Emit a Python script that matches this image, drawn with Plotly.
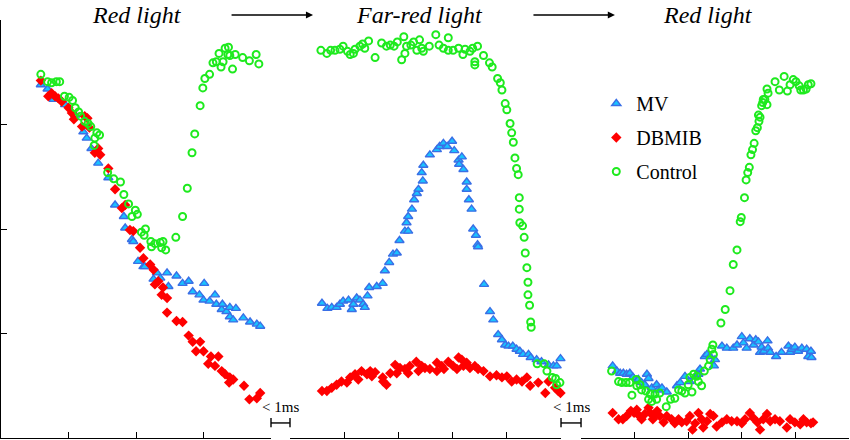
import plotly.graph_objects as go

# panel 1: red light
mv_p1_t = [0.59, 0.69, 0.78, 0.95, 1.10, 1.22, 1.27, 1.34, 1.44, 1.59, 1.69, 1.82, 1.84, 1.94, 1.96,
            2.03, 2.11, 2.13, 2.26, 2.31, 2.36, 2.46, 2.48, 2.60, 2.69, 2.78, 2.84, 2.94, 3.01, 3.00,
            3.09, 3.17, 3.19, 3.27, 3.28, 3.34, 3.39, 3.39, 3.44, 3.48, 3.59, 3.69, 3.79, 3.84]
mv_p1_v = [3.38, 3.34, 3.24, 3.19, 3.09, 2.93, 2.87, 2.77, 2.63, 2.49, 2.23, 2.12, 2.01, 1.90, 1.88,
            1.69, 1.64, 1.64, 1.52, 1.58, 1.53, 1.58, 1.45, 1.55, 1.48, 1.50, 1.40, 1.37, 1.48, 1.32,
            1.31, 1.37, 1.28, 1.23, 1.28, 1.21, 1.25, 1.16, 1.13, 1.24, 1.15, 1.11, 1.09, 1.07]
db_p1_t = [0.59, 0.70, 0.75, 0.80, 0.85, 0.90, 1.00, 1.05, 1.08, 1.20, 1.24, 1.28, 1.31, 1.39, 1.44,
            1.47, 1.59, 1.69, 1.79, 1.84, 1.91, 1.96, 2.06, 2.11, 2.21, 2.26, 2.28, 2.33, 2.40, 2.38,
            2.46, 2.46, 2.60, 2.69, 2.78, 2.84, 2.95, 2.89, 3.00, 3.11, 3.22, 3.07, 3.17, 3.27, 3.32,
            3.39, 3.44, 3.38, 3.60, 3.68, 3.79, 3.84]
db_p1_v = [3.42, 3.27, 3.30, 3.27, 3.25, 3.22, 3.16, 3.11, 3.05, 2.98, 3.08, 3.06, 2.97, 2.73, 2.77,
            2.71, 2.58, 2.38, 2.20, 2.23, 1.99, 1.98, 1.82, 1.72, 1.66, 1.61, 1.47, 1.50, 1.44, 1.37,
            1.34, 1.20, 1.12, 1.11, 0.98, 0.92, 0.92, 0.83, 0.83, 0.78, 0.78, 0.71, 0.69, 0.64, 0.61,
            0.58, 0.56, 0.53, 0.50, 0.37, 0.38, 0.43]
ctl_p1_t = [0.59, 0.69, 0.75, 0.82, 0.87, 0.94, 1.01, 1.06, 1.10, 1.15, 1.18, 1.24, 1.29, 1.33, 1.42,
             1.46, 1.39, 1.38, 1.58, 1.67, 1.77, 1.82, 1.89, 1.99, 2.02, 1.94, 2.08, 2.14, 2.12, 2.22,
             2.23, 2.28, 2.36, 2.38, 2.40, 2.44, 2.59, 2.69, 2.76, 2.83, 2.87, 2.95, 2.99, 3.02, 3.09,
             3.14, 3.19, 3.23, 3.26, 3.29, 3.32, 3.36, 3.37, 3.39, 3.43, 3.47, 3.58, 3.68, 3.78, 3.82]
ctl_p1_v = [3.48, 3.41, 3.40, 3.41, 3.41, 3.27, 3.26, 3.23, 3.16, 3.12, 3.08, 3.03, 3.01, 2.98, 2.92,
             2.90, 2.87, 2.80, 2.54, 2.48, 2.45, 2.33, 2.24, 2.18, 2.14, 2.12, 1.97, 2.00, 1.94, 1.88,
             1.83, 1.86, 1.87, 1.82, 1.88, 1.80, 1.92, 2.12, 2.39, 2.73, 2.91, 3.18, 3.35, 3.44, 3.48,
             3.59, 3.60, 3.68, 3.55, 3.60, 3.73, 3.67, 3.74, 3.66, 3.53, 3.67, 3.64, 3.61, 3.67, 3.58]

# panel 2: far-red light
mv_p2_t = [0.59, 0.69, 0.77, 0.86, 0.92, 0.98, 1.08, 1.14, 1.17, 1.23, 1.29, 1.35, 1.38, 1.43, 1.46,
            1.60, 1.71, 1.75, 1.83, 1.90, 1.97, 2.02, 2.12, 2.18, 2.15, 2.18, 2.25, 2.29, 2.34, 2.37,
            2.43, 2.45, 2.46, 2.58, 2.71, 2.76, 2.83, 2.90, 2.99, 3.03, 3.11, 3.17, 3.12, 3.20, 3.26,
            3.26, 3.30, 3.35, 3.38, 3.43, 3.46, 3.47, 3.58, 3.69, 3.75, 3.84, 3.91, 3.97, 4.03, 4.11,
            4.18, 4.24, 4.30, 4.40, 4.44, 4.55, 4.64, 4.77, 4.86, 4.92, 4.99]
mv_p2_v = [1.29, 1.24, 1.25, 1.25, 1.28, 1.31, 1.32, 1.23, 1.28, 1.34, 1.32, 1.28, 1.25, 1.36, 1.44,
            1.45, 1.48, 1.60, 1.68, 1.76, 1.77, 1.89, 1.98, 1.98, 2.06, 2.12, 2.19, 2.28, 2.34, 2.38,
            2.54, 2.46, 2.61, 2.71, 2.76, 2.79, 2.82, 2.79, 2.84, 2.75, 2.66, 2.69, 2.62, 2.57, 2.45,
            2.38, 2.28, 2.19, 2.00, 1.94, 1.85, 1.83, 1.47, 1.21, 1.13, 0.99, 0.94, 0.89, 0.88, 0.88,
            0.85, 0.83, 0.80, 0.80, 0.77, 0.75, 0.73, 0.70, 0.69, 0.69, 0.76]
db_p2_t = [0.59, 0.68, 0.77, 0.86, 0.95, 1.05, 1.11, 1.20, 1.26, 1.32, 1.42, 1.48, 1.51, 1.57, 1.71,
            1.72, 1.78, 1.85, 1.94, 1.97, 2.03, 2.12, 2.18, 2.21, 2.33, 2.37, 2.43, 2.49, 2.58, 2.71,
            2.71, 2.80, 2.84, 2.92, 3.01, 3.08, 3.11, 3.17, 3.20, 3.26, 3.32, 3.41, 3.47, 3.57, 3.69,
            3.81, 3.91, 4.00, 4.09, 4.18, 4.28, 4.37, 4.43, 4.58, 4.71, 4.77, 4.89, 4.95, 4.99]
db_p2_v = [0.45, 0.45, 0.48, 0.51, 0.54, 0.53, 0.58, 0.61, 0.56, 0.64, 0.61, 0.64, 0.59, 0.63, 0.58,
            0.54, 0.51, 0.62, 0.70, 0.62, 0.67, 0.66, 0.62, 0.69, 0.73, 0.64, 0.69, 0.67, 0.66, 0.72,
            0.64, 0.69, 0.66, 0.73, 0.69, 0.66, 0.77, 0.75, 0.69, 0.72, 0.67, 0.69, 0.66, 0.64, 0.59,
            0.60, 0.58, 0.59, 0.54, 0.56, 0.54, 0.58, 0.50, 0.53, 0.43, 0.54, 0.48, 0.45, 0.43]
ctl_p2_t = [0.57, 0.68, 0.75, 0.83, 0.92, 0.98, 1.06, 1.11, 1.17, 1.20, 1.29, 1.34, 1.38, 1.45, 1.57,
             1.69, 1.78, 1.85, 1.92, 1.98, 2.06, 2.10, 2.12, 2.15, 2.23, 2.28, 2.34, 2.39, 2.43, 2.46,
             2.57, 2.69, 2.75, 2.83, 2.92, 2.92, 3.01, 3.11, 3.19, 3.23, 3.32, 3.37, 3.46, 3.41, 3.41,
             3.57, 3.68, 3.73, 3.83, 3.88, 3.91, 3.97, 4.00, 4.06, 4.09, 4.12, 4.15, 4.18, 4.21, 4.23,
             4.23, 4.24, 4.29, 4.32, 4.34, 4.37, 4.39, 4.39, 4.42, 4.44, 4.45, 4.56, 4.69, 4.74, 4.84,
             4.90, 4.98, 4.92]
ctl_p2_v = [3.71, 3.68, 3.71, 3.71, 3.72, 3.75, 3.70, 3.67, 3.68, 3.72, 3.75, 3.77, 3.73, 3.80, 3.64,
             3.78, 3.75, 3.76, 3.75, 3.79, 3.62, 3.84, 3.68, 3.75, 3.76, 3.79, 3.71, 3.81, 3.73, 3.70,
             3.75, 3.86, 3.76, 3.73, 3.83, 3.71, 3.71, 3.73, 3.67, 3.72, 3.70, 3.73, 3.75, 3.60, 3.57,
             3.66, 3.59, 3.55, 3.44, 3.40, 3.33, 3.20, 3.14, 3.01, 2.92, 2.83, 2.68, 2.58, 2.52, 2.30,
             2.19, 2.06, 2.03, 1.92, 1.77, 1.63, 1.49, 1.37, 1.27, 1.11, 1.06, 0.71, 0.71, 0.64, 0.58,
             0.57, 0.53, 0.51]

# panel 3: red light again
mv_p3_t = [0.59, 0.67, 0.73, 0.79, 0.85, 0.91, 0.97, 1.07, 1.13, 1.23, 1.26, 1.19, 1.32, 1.41, 1.44,
            1.51, 1.60, 1.79, 1.85, 1.94, 2.03, 2.13, 2.19, 2.22, 2.31, 2.35, 2.41, 2.48, 2.50, 2.63,
            2.72, 2.84, 2.91, 3.00, 3.03, 3.09, 3.15, 3.22, 3.26, 3.31, 3.34, 3.37, 3.41, 3.48, 3.49,
            3.53, 3.64, 3.74, 3.87, 3.90, 3.93, 3.99, 4.05, 4.12, 4.21, 4.24, 4.29, 4.30]
mv_p3_v = [0.69, 0.64, 0.62, 0.62, 0.61, 0.62, 0.58, 0.56, 0.53, 0.61, 0.57, 0.51, 0.48, 0.51, 0.46,
            0.48, 0.44, 0.50, 0.53, 0.59, 0.54, 0.59, 0.61, 0.66, 0.78, 0.80, 0.78, 0.69, 0.75, 0.88,
            0.86, 0.86, 0.89, 0.97, 0.91, 0.86, 0.95, 0.89, 0.94, 0.92, 0.82, 0.87, 0.83, 0.93, 0.86,
            0.82, 0.78, 0.82, 0.88, 0.82, 0.85, 0.87, 0.83, 0.86, 0.85, 0.78, 0.83, 0.77]
db_p3_t = [0.59, 0.70, 0.78, 0.85, 0.93, 0.99, 1.04, 1.09, 1.13, 1.19, 1.26, 1.29, 1.34, 1.38, 1.42,
            1.47, 1.54, 1.60, 1.69, 1.75, 1.82, 1.88, 1.97, 2.03, 2.08, 2.13, 2.19, 2.25, 2.28, 2.35,
            2.41, 2.47, 2.53, 2.63, 2.72, 2.81, 2.91, 3.00, 3.06, 3.15, 3.22, 3.29, 3.34, 3.40, 3.47,
            3.53, 3.62, 3.71, 3.84, 3.90, 3.99, 4.09, 4.15, 4.21, 4.29, 4.33]
db_p3_v = [0.24, 0.18, 0.18, 0.21, 0.26, 0.24, 0.27, 0.21, 0.18, 0.23, 0.29, 0.24, 0.18, 0.21, 0.26,
            0.21, 0.15, 0.21, 0.18, 0.14, 0.18, 0.15, 0.16, 0.21, 0.08, 0.14, 0.24, 0.18, 0.10, 0.16,
            0.23, 0.21, 0.11, 0.15, 0.18, 0.16, 0.16, 0.14, 0.18, 0.24, 0.19, 0.15, 0.08, 0.18, 0.23,
            0.16, 0.18, 0.16, 0.10, 0.18, 0.15, 0.13, 0.18, 0.15, 0.14, 0.15]
ctl_p3_t = [0.57, 0.70, 0.76, 0.84, 0.91, 0.95, 1.03, 1.04, 1.10, 1.13, 1.21, 1.26, 1.29, 1.32, 1.38,
             1.41, 1.47, 1.59, 1.67, 1.75, 1.82, 1.88, 1.94, 2.00, 2.03, 2.07, 2.10, 2.16, 2.19, 2.25,
             2.30, 2.38, 2.41, 2.47, 2.44, 2.46, 2.61, 2.69, 2.78, 2.84, 2.91, 2.97, 2.99, 3.05, 3.08,
             3.11, 3.14, 3.17, 3.20, 3.23, 3.26, 3.29, 3.32, 3.34, 3.31, 3.37, 3.39, 3.40, 3.43, 3.47,
             3.47, 3.49, 3.62, 3.70, 3.79, 3.85, 3.90, 3.96, 4.01, 4.07, 4.10, 4.15, 4.20, 4.24, 4.29]
ctl_p3_v = [0.64, 0.54, 0.53, 0.53, 0.53, 0.41, 0.56, 0.50, 0.51, 0.46, 0.45, 0.37, 0.42, 0.35, 0.42,
             0.37, 0.43, 0.30, 0.37, 0.38, 0.46, 0.45, 0.43, 0.51, 0.58, 0.44, 0.61, 0.59, 0.54, 0.50,
             0.64, 0.69, 0.75, 0.80, 0.85, 0.89, 1.10, 1.23, 1.41, 1.66, 1.80, 2.07, 2.11, 2.30, 2.47,
             2.54, 2.59, 2.71, 2.76, 2.82, 2.94, 2.97, 3.03, 3.07, 3.09, 3.18, 3.21, 3.24, 3.24, 3.19,
             3.34, 3.30, 3.41, 3.33, 3.46, 3.32, 3.38, 3.43, 3.41, 3.37, 3.33, 3.33, 3.34, 3.38, 3.39]

panel_titles = ["Red light", "Far-red light", "Red light"]
panel_ticks = [4, 5, 5]
break_label = "&lt; 1ms"

SERIF = "Liberation Serif, Times New Roman, serif"
xdom = [[0.0, 0.3184], [0.3408, 0.6604], [0.684, 1.0]]
xnames = ["x", "x2", "x3"]

series = [
    ("MV", [(mv_p1_t, mv_p1_v), (mv_p2_t, mv_p2_v), (mv_p3_t, mv_p3_v)],
     dict(symbol="triangle-up", size=8, color="#19c3ff", line=dict(color="#3a6fe6", width=1.4))),
    ("DBMIB", [(db_p1_t, db_p1_v), (db_p2_t, db_p2_v), (db_p3_t, db_p3_v)],
     dict(symbol="diamond", size=8, color="#ff0000", line=dict(width=0))),
    ("Control", [(ctl_p1_t, ctl_p1_v), (ctl_p2_t, ctl_p2_v), (ctl_p3_t, ctl_p3_v)],
     dict(symbol="circle-open", size=7, color="#1eea1e", line=dict(color="#1eea1e", width=2))),
]

fig = go.Figure()
for name, parts, mk in series:
    for i, (t, v) in enumerate(parts):
        fig.add_trace(go.Scatter(x=t, y=v, mode="markers", name=name, marker=mk,
                                 xaxis=xnames[i], yaxis="y", legendgroup=name,
                                 showlegend=(i == 0), cliponaxis=False))

axis_style = dict(showline=True, linecolor="black", linewidth=1.2, ticks="inside",
                  ticklen=6, tickwidth=1.2, tickcolor="black", showticklabels=False,
                  showgrid=False, zeroline=False, dtick=1)

layout = dict(
    width=850, height=440,
    margin=dict(l=1, r=1, t=20, b=2),
    plot_bgcolor="white", paper_bgcolor="white",
    font=dict(family=SERIF, color="black"),
    yaxis=dict(range=[0, 4], anchor="x", **axis_style),
    legend=dict(x=0.702, y=0.847, xanchor="left", yanchor="top",
                font=dict(family=SERIF, size=20, color="black"), bgcolor="rgba(0,0,0,0)",
                traceorder="grouped", tracegroupgap=5),
)
for i, xn in enumerate(xnames):
    key = "xaxis" if i == 0 else "xaxis%d" % (i + 1)
    layout[key] = dict(domain=xdom[i], range=[0, panel_ticks[i]], anchor="y", **axis_style)
fig.update_layout(**layout)

# panel titles and arrows
title_x = [0.160, 0.493, 0.834]
for tx, txt in zip(title_x, panel_titles):
    fig.add_annotation(x=tx, y=1.012, xref="paper", yref="paper", text="<i>%s</i>" % txt,
                       showarrow=False, font=dict(family=SERIF, size=24),
                       xanchor="center", yanchor="middle")
for x1 in [0.368, 0.724]:
    fig.add_annotation(x=x1, y=1.012, ax=-83, ay=0, xref="paper", yref="paper",
                       text="", showarrow=True, arrowhead=2, arrowsize=1.1,
                       arrowwidth=1.3, arrowcolor="black")

# "<1ms" brackets across the axis breaks
for i in range(2):
    x0, x1 = xdom[i][1], xdom[i + 1][0]
    for xx in (x0, x1):
        fig.add_shape(type="line", xref="paper", yref="paper", x0=xx, x1=xx, y0=0.026, y1=0.048,
                      line=dict(color="black", width=1.4))
    fig.add_shape(type="line", xref="paper", yref="paper", x0=x0, x1=x1, y0=0.036, y1=0.036,
                  line=dict(color="black", width=1.4))
    fig.add_annotation(x=(x0 + x1) / 2, y=0.074, xref="paper", yref="paper", text=break_label,
                       showarrow=False, font=dict(family=SERIF, size=15),
                       xanchor="center", yanchor="middle")

# drop the default page margin so the figure sits at the window corner
fig.write_html("out.html", config={"displayModeBar": False},
               post_script="document.body.style.margin='0';")
